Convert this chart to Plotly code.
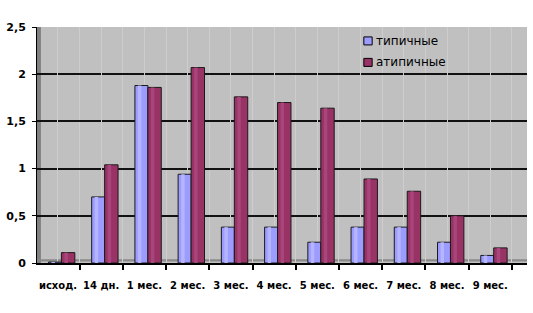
import plotly.graph_objects as go

categories = ["исход.", "14 дн.", "1 мес.", "2 мес.", "3 мес.", "4 мес.",
              "5 мес.", "6 мес.", "7 мес.", "8 мес.", "9 мес."]
typical = [0.01, 0.70, 1.88, 0.94, 0.38, 0.38, 0.22, 0.38, 0.38, 0.22, 0.08]
atypical = [0.11, 1.04, 1.86, 2.07, 1.76, 1.70, 1.64, 0.89, 0.76, 0.50, 0.16]
series_names = ["типичные", "атипичные"]
y_ticks = [0, 0.5, 1, 1.5, 2, 2.5]
y_tick_labels = ["0", "0,5", "1", "1,5", "2", "2,5"]

c_typ = "#9C9CFF"
c_atyp = "#993366"
hl_typ = "#B4B4FF"
hl_atyp = "#A8457A"
xpos = list(range(len(categories)))
boundaries = [i - 0.5 for i in range(len(categories) + 1)]

fig = go.Figure()
fig.add_trace(go.Bar(x=xpos, y=typical, offset=-0.22, width=0.30,
                     marker=dict(color=c_typ, line=dict(color="#1a1a1a", width=1)),
                     showlegend=False, name=series_names[0]))
fig.add_trace(go.Bar(x=xpos, y=typical, offset=-0.15, width=0.08, xaxis="x2",
                     marker=dict(color=hl_typ, line=dict(width=0)),
                     showlegend=False, hoverinfo="skip"))
fig.add_trace(go.Bar(x=xpos, y=atypical, offset=0.08, width=0.31,
                     marker=dict(color=c_atyp, line=dict(color="#1a1a1a", width=1)),
                     showlegend=False, name=series_names[1]))
fig.add_trace(go.Bar(x=xpos, y=atypical, offset=0.15, width=0.08, xaxis="x2",
                     marker=dict(color=hl_atyp, line=dict(width=0)),
                     showlegend=False, hoverinfo="skip"))

font = "DejaVu Sans"
xr = [-0.485, 10.85]
fig.update_layout(
    width=533, height=313,
    margin=dict(l=34, r=6, t=27, b=50),
    paper_bgcolor="white", plot_bgcolor="#C0C0C0",
    barmode="overlay",
    font=dict(family=font, size=10, color="black"),
    showlegend=False,
    xaxis=dict(
        range=xr, tickvals=boundaries, ticktext=[""] * len(boundaries),
        ticks="outside", ticklen=5, tickcolor="black", tickwidth=1.5,
        showgrid=True, gridcolor="#cdcdcd", gridwidth=1,
        showline=True, linecolor="black", linewidth=2, zeroline=False,
        fixedrange=True, layer="above traces",
    ),
    xaxis2=dict(
        overlaying="x", anchor="y", side="bottom", matches="x",
        range=xr, tickvals=xpos, ticktext=categories,
        ticks="", ticklabelstandoff=15,
        tickfont=dict(family=font, size=10, color="black", weight="bold"),
        showgrid=True, gridcolor="#cdcdcd", gridwidth=1,
        showline=False, zeroline=False, fixedrange=True,
    ),
    yaxis=dict(
        range=[0, 2.5], tickvals=y_ticks, ticktext=y_tick_labels,
        ticks="outside", ticklen=4, tickcolor="black", ticklabelstandoff=4,
        tickfont=dict(family=font, size=11, color="black", weight="bold"),
        showgrid=True, gridcolor="#111111", gridwidth=1.5,
        showline=True, linecolor="black", linewidth=1, zeroline=False,
        fixedrange=True,
    ),
)
# 3D-style left wall and floor (decoration)
fig.add_shape(type="rect", xref="paper", yref="paper", x0=0, x1=0.008, y0=0, y1=1,
              fillcolor="#808080", line=dict(width=0), layer="below")
fig.add_shape(type="rect", xref="paper", yref="paper", x0=0, x1=1, y0=0.006, y1=0.016,
              fillcolor="#8a8a8a", line=dict(width=0), layer="below")

# legend (manual, to match the compact Excel look)
legend_items = [(series_names[0], c_typ, 0.941), (series_names[1], c_atyp, 0.850)]
for name, col, yc in legend_items:
    fig.add_shape(type="rect", xref="paper", yref="paper",
                  x0=0.667, x1=0.684, y0=yc - 0.017, y1=yc + 0.017,
                  fillcolor=col, line=dict(color="black", width=1))
    fig.add_annotation(xref="paper", yref="paper", x=0.688, y=yc, text=name,
                       showarrow=False, xanchor="left", yanchor="middle",
                       font=dict(family=font, size=12, color="black"))

fig.write_html("out.html")
